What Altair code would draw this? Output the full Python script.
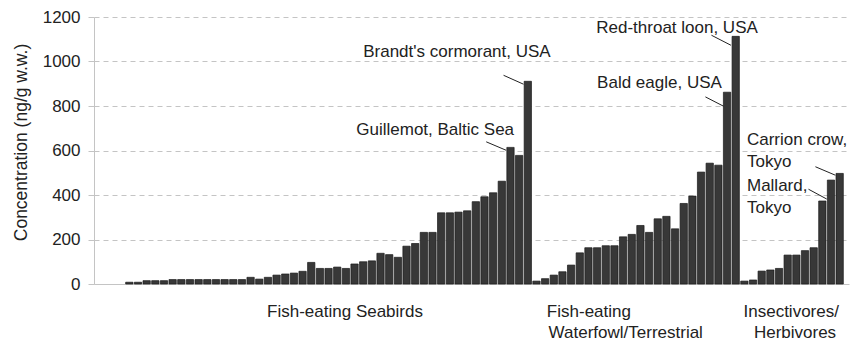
import altair as alt
import pandas as pd

# Concentrations (ng/g wet weight), one bar per species/site, sorted within each feeding group
seabirds = [8, 8, 15, 15, 15, 20, 20, 20, 20, 20, 20, 20, 20, 20, 30, 22, 30, 40, 45, 49,
            57, 97, 70, 70, 76, 70, 90, 100, 104, 138, 132, 120, 170, 182, 232, 232, 320,
            320, 323, 329, 370, 392, 410, 462, 614, 578, 911]
waterfowl = [13, 24, 40, 55, 85, 140, 163, 163, 172, 172, 212, 223, 263, 232, 293, 304,
             248, 362, 395, 503, 543, 534, 862, 1113]
insectivores = [13, 18, 58, 63, 70, 130, 130, 150, 163, 373, 467, 497]

values = seabirds + waterfowl + insectivores
groups = (["Fish-eating Seabirds"] * len(seabirds)
          + ["Fish-eating Waterfowl/Terrestrial"] * len(waterfowl)
          + ["Insectivores/Herbivores"] * len(insectivores))
bars_df = pd.DataFrame({"idx": list(range(len(values))), "conc": values, "group": groups})

# Callouts: text anchored in (bar index, concentration) units
ann_text = ["Brandt's cormorant, USA", "Guillemot, Baltic Sea", "Red-throat loon, USA",
            "Bald eagle, USA", "Carrion crow,", "Tokyo", "Mallard,", "Tokyo"]
ann_x = [27.0, 26.2, 53.9, 54.0, 71.3, 71.3, 71.3, 71.3]
ann_y = [1019, 669, 1130, 879, 624, 526, 419, 317]
ann_df = pd.DataFrame({"text": ann_text, "x": ann_x, "y": ann_y})

# Leader lines from each callout to its bar
lead_x1 = [43.2, 41.2, 67.2, 66.5, 79.2, 78.4]
lead_y1 = [938, 639, 1118, 841, 527, 426]
lead_x2 = [45.5, 43.5, 69.45, 68.6, 81.5, 80.5]
lead_y2 = [898, 601, 1073, 799, 489, 382]
lead_df = pd.DataFrame({"x1": lead_x1, "y1": lead_y1, "x2": lead_x2, "y2": lead_y2})

# Group names under the axis, two rows
cat_row1 = ["Fish-eating Seabirds", "Fish-eating", "Insectivores/"]
cat_row1_x = [15.9, 48.2, 70.9]
cat_row2 = ["Waterfowl/Terrestrial", "Herbivores"]
cat_row2_x = [48.4, 72.1]
cat1_df = pd.DataFrame({"text": cat_row1, "x": cat_row1_x})
cat2_df = pd.DataFrame({"text": cat_row2, "x": cat_row2_x})

FONT = "Liberation Sans"
INK = "#222222"
GRID = "#c4c4c4"

x_scale = alt.Scale(domain=[-3.5, 82.5], nice=False, zero=False)
y_scale = alt.Scale(domain=[0, 1200], nice=False)

bars = alt.Chart(bars_df).mark_bar(
    size=7.3, fill="#383838", stroke="#1a1a1a", strokeWidth=0.7
).encode(
    x=alt.X("idx:Q", scale=x_scale,
            axis=alt.Axis(labels=False, ticks=False, grid=False, title=None,
                          domainColor=GRID, domainWidth=1)),
    y=alt.Y("conc:Q", scale=y_scale,
            axis=alt.Axis(values=[0, 200, 400, 600, 800, 1000, 1200], format="d",
                          grid=True, gridDash=[5, 4], gridColor=GRID, gridWidth=1,
                          domainColor=GRID, tickColor=GRID, tickSize=6,
                          labelFont=FONT, labelFontSize=17, labelColor=INK,
                          labelPadding=8,
                          title="Concentration (ng/g w.w.)", titleFont=FONT,
                          titleFontSize=17.5, titleFontWeight="normal",
                          titleColor=INK, titleAngle=270, titleAlign="center",
                          titleBaseline="middle", titleX=-73, titleY=125)),
)

leaders = alt.Chart(lead_df).mark_rule(color="#222222", strokeWidth=1).encode(
    x=alt.X("x1:Q", scale=x_scale), x2="x2:Q",
    y=alt.Y("y1:Q", scale=y_scale), y2="y2:Q",
)

callouts = alt.Chart(ann_df).mark_text(
    align="left", baseline="alphabetic", font=FONT, fontSize=17, color=INK
).encode(
    x=alt.X("x:Q", scale=x_scale),
    y=alt.Y("y:Q", scale=y_scale),
    text="text:N",
)

cats1 = alt.Chart(cat1_df).mark_text(
    align="left", baseline="alphabetic", font=FONT, fontSize=17, color=INK, dy=32.5
).encode(
    x=alt.X("x:Q", scale=x_scale),
    y=alt.datum(0, scale=y_scale),
    text="text:N",
)

cats2 = alt.Chart(cat2_df).mark_text(
    align="left", baseline="alphabetic", font=FONT, fontSize=17, color=INK, dy=53.5
).encode(
    x=alt.X("x:Q", scale=x_scale),
    y=alt.datum(0, scale=y_scale),
    text="text:N",
)

chart = alt.layer(bars, leaders, callouts, cats1, cats2).properties(
    width=755,
    height=267,
    autosize=alt.AutoSizeParams(type="none"),
    padding={"left": 94, "top": 17, "right": 6, "bottom": 57},
    background="white",
).configure_view(strokeWidth=0)

chart.save("out.html", embed_options={"renderer": "svg", "actions": False})
